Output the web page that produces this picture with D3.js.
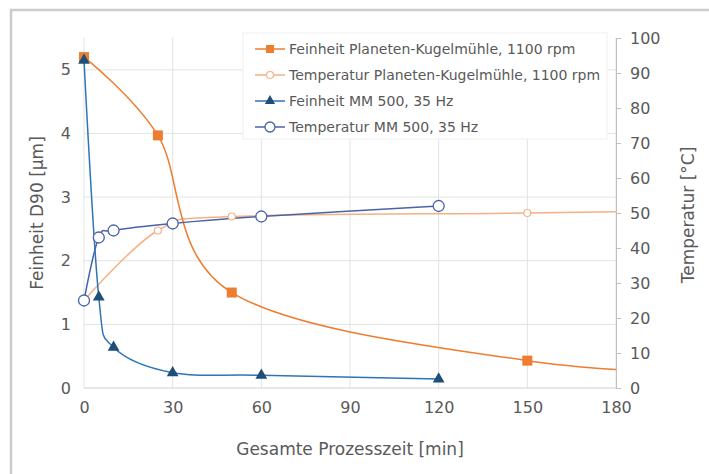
<!DOCTYPE html>
<html>
<head>
<meta charset="utf-8">
<script src="https://cdn.jsdelivr.net/npm/d3@7"></script>
<style>
  html, body { margin: 0; padding: 0; background: #ffffff; }
  svg { display: block; }
  text { font-family: "DejaVu Sans", Verdana, sans-serif; fill: #595959; }
</style>
</head>
<body>
<svg id="chart" width="709" height="474"></svg>
<script>
// ---- Data ----
const xTicks = [0, 30, 60, 90, 120, 150, 180];
const leftTicks = [0, 1, 2, 3, 4, 5];
const rightTicks = [0, 10, 20, 30, 40, 50, 60, 70, 80, 90, 100];

// Feinheit Planeten-Kugelmühle (last point lies beyond the visible axis end)
const pkmTime = [0, 25, 50, 150, 240];
const pkmFeinheit = [5.2, 3.97, 1.5, 0.43, 0.18];
const pkmMarker = [true, true, true, true, false];

// Temperatur Planeten-Kugelmühle
const pkmTempTime = [0, 25, 50, 150, 240];
const pkmTemp = [25, 45, 49, 50, 51];
const pkmTempMarker = [true, true, true, true, false];

// Feinheit MM 500
const mmTime = [0, 5, 10, 30, 60, 120];
const mmFeinheit = [5.15, 1.43, 0.64, 0.24, 0.2, 0.14];

// Temperatur MM 500
const mmTempTime = [0, 5, 10, 30, 60, 120];
const mmTemp = [25, 43, 45, 47, 49, 52];

const legendLabels = [
  "Feinheit Planeten-Kugelmühle, 1100 rpm",
  "Temperatur Planeten-Kugelmühle, 1100 rpm",
  "Feinheit MM 500, 35 Hz",
  "Temperatur MM 500, 35 Hz"
];

// ---- Styles ----
const cOrange = "#ED7D31";
const cOrangeLight = "#F4B183";
const cBlueLine = "#2E75B6";
const cNavy = "#1F4E79";
const cBlueTemp = "#4A63A8";

const svg = d3.select("#chart");
const plot = { left: 84, right: 616, top: 38, bottom: 388 };

// outer frame
svg.append("rect").attr("x", 11).attr("y", 10).attr("width", 740).attr("height", 500)
  .attr("fill", "#ffffff").attr("stroke", "#cccccc").attr("stroke-width", 2.5);

const x = d3.scaleLinear().domain([0, 180]).range([plot.left, plot.right]);
const yL = d3.scaleLinear().domain([0, 5.5]).range([plot.bottom, plot.top]);
const yR = d3.scaleLinear().domain([0, 100]).range([plot.bottom, plot.top]);

// gridlines
const grid = svg.append("g");
grid.selectAll(".hg").data(leftTicks.filter(d => d > 0)).enter().append("line")
  .attr("x1", plot.left).attr("x2", plot.right)
  .attr("y1", d => yL(d)).attr("y2", d => yL(d))
  .attr("stroke", "#e3e3e3").attr("stroke-width", 1);
grid.selectAll(".vg").data(xTicks).enter().append("line")
  .attr("x1", d => x(d)).attr("x2", d => x(d))
  .attr("y1", plot.top).attr("y2", plot.bottom)
  .attr("stroke", "#e3e3e3").attr("stroke-width", 1);

// legend background covering gridlines
const lgX = 243, lgY = 33, lgW = 364, lgH = 106;
svg.append("rect").attr("x", lgX).attr("y", lgY).attr("width", lgW).attr("height", lgH)
  .attr("fill", "#ffffff").attr("stroke", "#f0f0f0");

// x axis line
svg.append("line").attr("x1", plot.left).attr("x2", plot.right)
  .attr("y1", plot.bottom).attr("y2", plot.bottom)
  .attr("stroke", "#d0d0d0").attr("stroke-width", 1);

const fmt = d3.format("d");

// right axis
const rAxis = d3.axisRight(yR).tickValues(rightTicks).tickFormat(fmt).tickSize(5).tickPadding(9);
const rg = svg.append("g").attr("transform", `translate(${plot.right},0)`).call(rAxis);
rg.select(".domain").attr("stroke", "#bfbfbf");
rg.selectAll(".tick line").attr("stroke", "#bfbfbf");
rg.selectAll(".tick text").attr("font-size", 16).attr("fill", "#595959")
  .attr("font-family", "DejaVu Sans, Verdana, sans-serif");

// left axis
const lAxis = d3.axisLeft(yL).tickValues(leftTicks).tickFormat(fmt).tickSize(0).tickPadding(13);
const lg = svg.append("g").attr("transform", `translate(${plot.left},0)`).call(lAxis);
lg.select(".domain").remove();
lg.selectAll(".tick text").attr("font-size", 16).attr("fill", "#595959")
  .attr("font-family", "DejaVu Sans, Verdana, sans-serif");

// bottom axis
const bAxis = d3.axisBottom(x).tickValues(xTicks).tickFormat(fmt).tickSize(0).tickPadding(14);
const bg = svg.append("g").attr("transform", `translate(0,${plot.bottom})`).call(bAxis);
bg.select(".domain").remove();
bg.selectAll(".tick text").attr("font-size", 16).attr("fill", "#595959")
  .attr("font-family", "DejaVu Sans, Verdana, sans-serif");

// axis titles
svg.append("text").attr("x", (plot.left + plot.right) / 2).attr("y", 455)
  .attr("text-anchor", "middle").attr("font-size", 17).text("Gesamte Prozesszeit [min]");
svg.append("text").attr("transform", `translate(43,${(plot.top + plot.bottom) / 2}) rotate(-90)`)
  .attr("text-anchor", "middle").attr("font-size", 17).text("Feinheit D90 [µm]");
svg.append("text").attr("transform", `translate(694,${(plot.top + plot.bottom) / 2 + 2}) rotate(-90)`)
  .attr("text-anchor", "middle").attr("font-size", 17).text("Temperatur [°C]");

// clip
svg.append("clipPath").attr("id", "clip").append("rect")
  .attr("x", plot.left - 2).attr("y", plot.top - 2)
  .attr("width", plot.right - plot.left + 2).attr("height", plot.bottom - plot.top + 4);

const curve = d3.curveCardinal.tension(0);
const lineGen = (ys) => d3.line().x(d => x(d[0])).y(d => ys(d[1])).curve(curve);
const zip = (a, b) => a.map((v, i) => [v, b[i]]);

const pkmData = zip(pkmTime, pkmFeinheit);
const pkmTData = zip(pkmTempTime, pkmTemp);
const mmData = zip(mmTime, mmFeinheit);
const mmTData = zip(mmTempTime, mmTemp);

const lines = svg.append("g").attr("clip-path", "url(#clip)");
lines.append("path").datum(pkmTData).attr("d", lineGen(yR))
  .attr("fill", "none").attr("stroke", cOrangeLight).attr("stroke-width", 1.5);
lines.append("path").datum(pkmData).attr("d", lineGen(yL))
  .attr("fill", "none").attr("stroke", cOrange).attr("stroke-width", 1.5);
lines.append("path").datum(mmTData).attr("d", lineGen(yR))
  .attr("fill", "none").attr("stroke", cBlueTemp).attr("stroke-width", 1.5);
lines.append("path").datum(mmData).attr("d", lineGen(yL))
  .attr("fill", "none").attr("stroke", cBlueLine).attr("stroke-width", 1.5);

const marks = svg.append("g");
marks.selectAll(".ot").data(pkmTData.filter((d, i) => pkmTempMarker[i])).enter().append("circle")
  .attr("cx", d => x(d[0])).attr("cy", d => yR(d[1])).attr("r", 3.5)
  .attr("fill", "#ffffff").attr("stroke", cOrangeLight).attr("stroke-width", 1.2);
marks.selectAll(".bt").data(mmTData).enter().append("circle")
  .attr("cx", d => x(d[0])).attr("cy", d => yR(d[1])).attr("r", 5.5)
  .attr("fill", "#ffffff").attr("stroke", cBlueTemp).attr("stroke-width", 1.3);
marks.selectAll(".os").data(pkmData.filter((d, i) => pkmMarker[i])).enter().append("rect")
  .attr("x", d => x(d[0]) - 5).attr("y", d => yL(d[1]) - 5).attr("width", 10).attr("height", 10)
  .attr("fill", cOrange);
const tri = d3.symbol().type(d3.symbolTriangle).size(60);
marks.selectAll(".tr").data(mmData).enter().append("path")
  .attr("transform", d => `translate(${x(d[0])},${yL(d[1])})`).attr("d", tri())
  .attr("fill", cNavy);

// legend entries
const rowY = [49, 75, 101, 127];
const colors = [cOrange, cOrangeLight, cBlueLine, cBlueTemp];
const lgG = svg.append("g");
legendLabels.forEach((lab, i) => {
  const y = rowY[i];
  lgG.append("line").attr("x1", 255).attr("x2", 285).attr("y1", y).attr("y2", y)
    .attr("stroke", colors[i]).attr("stroke-width", 1.5);
  if (i === 0) lgG.append("rect").attr("x", 266).attr("y", y - 4).attr("width", 8).attr("height", 8).attr("fill", cOrange);
  if (i === 1) lgG.append("circle").attr("cx", 270).attr("cy", y).attr("r", 3.5).attr("fill", "#fff").attr("stroke", cOrangeLight).attr("stroke-width", 1.2);
  if (i === 2) lgG.append("path").attr("transform", `translate(270,${y})`).attr("d", d3.symbol().type(d3.symbolTriangle).size(45)()).attr("fill", cNavy);
  if (i === 3) lgG.append("circle").attr("cx", 270).attr("cy", y).attr("r", 5).attr("fill", "#fff").attr("stroke", cBlueTemp).attr("stroke-width", 1.3);
  lgG.append("text").attr("x", 289).attr("y", y).attr("dy", "0.35em").attr("font-size", 14).text(lab);
});
</script>
</body>
</html>
